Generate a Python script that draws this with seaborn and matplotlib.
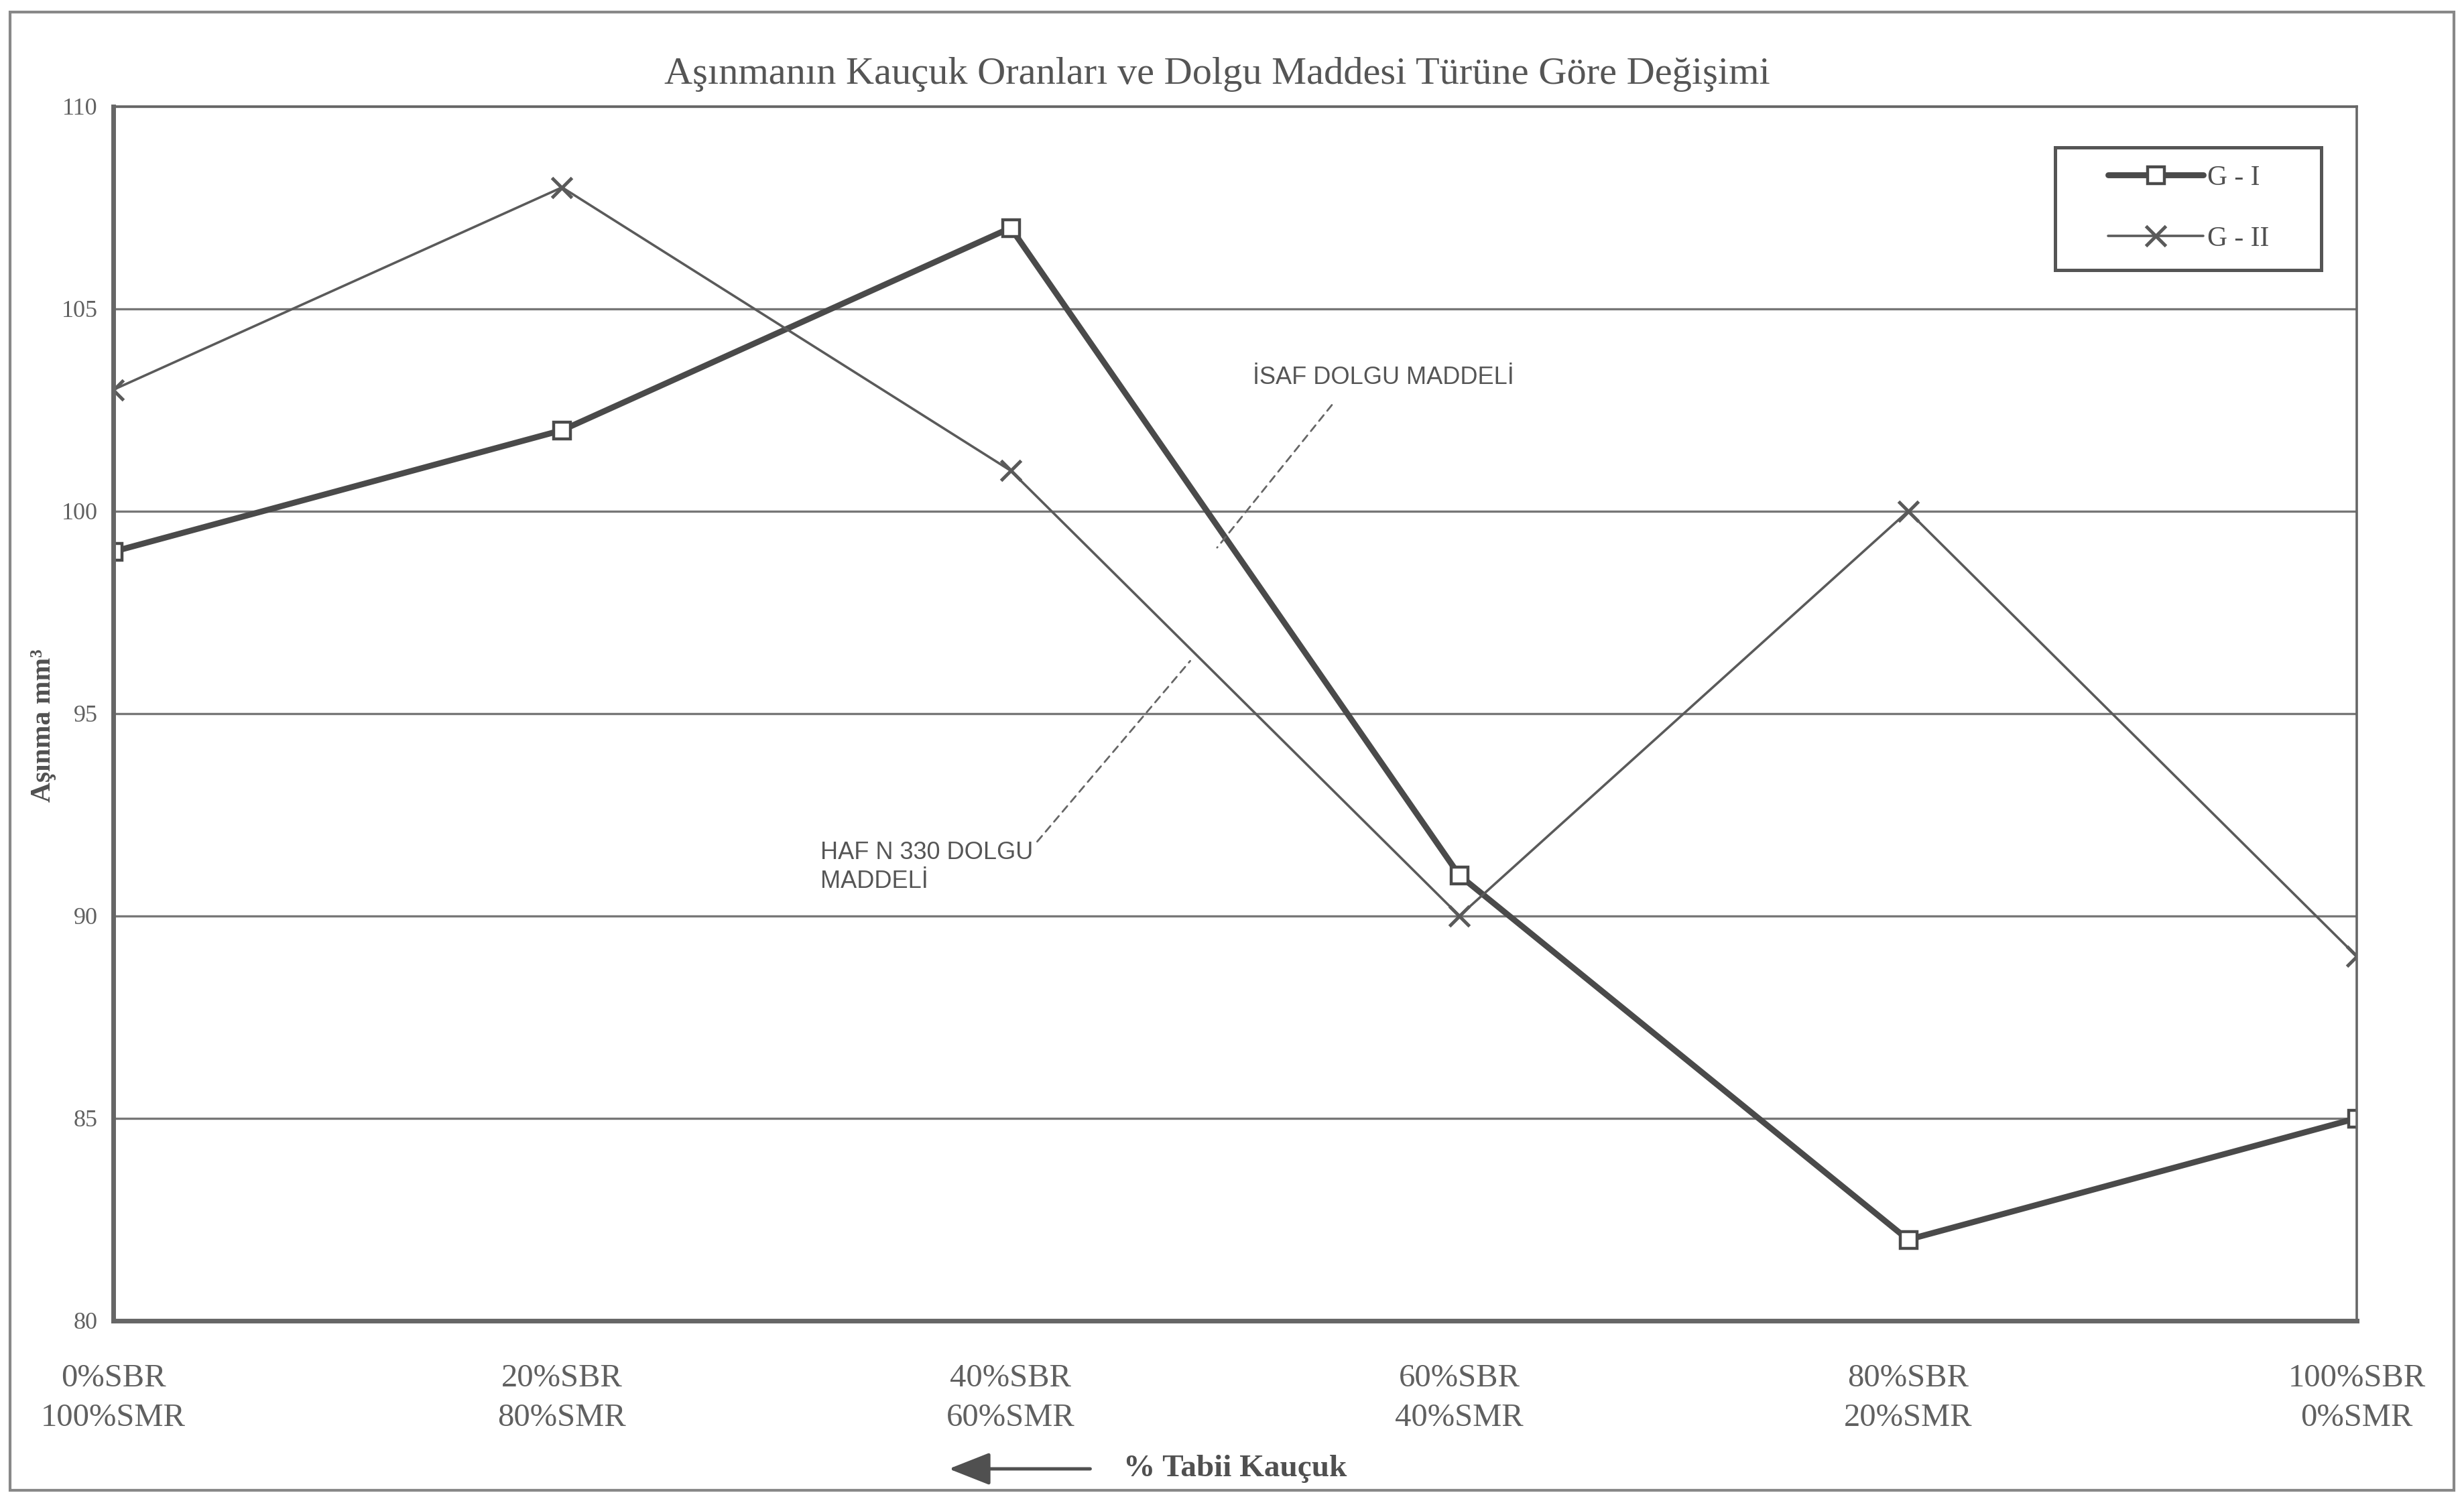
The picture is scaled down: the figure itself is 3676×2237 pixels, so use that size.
import numpy as np
import pandas as pd
import matplotlib.pyplot as plt
import seaborn as sns
from matplotlib.patches import Rectangle, FancyArrowPatch

# data
categories = ["0%SBR\n100%SMR", "20%SBR\n80%SMR", "40%SBR\n60%SMR",
              "60%SBR\n40%SMR", "80%SBR\n20%SMR", "100%SBR\n0%SMR"]
g1_values = [99, 102, 107, 91, 82, 85]
g2_values = [103, 108, 101, 90, 100, 89]
y_ticks = [80, 85, 90, 95, 100, 105, 110]

df = pd.DataFrame({
    "pos": list(range(len(categories))) * 2,
    "val": g1_values + g2_values,
    "seri": ["G - I"] * len(categories) + ["G - II"] * len(categories),
})

sns.set_style("white")
plt.rcParams["font.family"] = ["Liberation Serif", "DejaVu Serif"]

ink = "#555555"
fig = plt.figure(figsize=(18.38, 11.185), dpi=200, facecolor="white")
ax = fig.add_axes([0.046, 0.119, 0.9105, 0.81])

sns.lineplot(data=df[df.seri == "G - I"], x="pos", y="val", ax=ax,
             color="#4a4a4a", linewidth=3.2, marker="s", markersize=9,
             markerfacecolor="white", markeredgecolor="#4a4a4a",
             markeredgewidth=1.6, label="G - I")
sns.lineplot(data=df[df.seri == "G - II"], x="pos", y="val", ax=ax,
             color="#5a5a5a", linewidth=1.3, marker="x", markersize=11,
             markeredgewidth=1.8, markeredgecolor="#5a5a5a", label="G - II")

ax.set_xlim(0, len(categories) - 1)
ax.set_ylim(80, 110)
ax.set_yticks(y_ticks)
ax.set_yticklabels([str(v) for v in y_ticks], fontsize=13, color="#606060")
ax.set_xticks(range(len(categories)))
ax.set_xticklabels(categories, fontsize=17.5, color="#606060", linespacing=1.45)
ax.tick_params(axis="both", direction="inout", length=10, width=1.2, colors=ink,
               labelcolor="#606060")
ax.tick_params(axis="x", pad=18)
ax.grid(axis="y", color="#777777", linewidth=1.2)
for s in ax.spines.values():
    s.set_color("#666666")
    s.set_linewidth(1.3)
ax.spines["left"].set_linewidth(2.5)
ax.spines["bottom"].set_linewidth(2.5)
ax.set_xlabel("")
ax.set_ylabel("Aşınma mm³", fontsize=15, fontweight="bold", color="#505050")
ax.yaxis.set_label_coords(-0.0255, 0.49)

ax.set_title("Aşınmanın Kauçuk Oranları ve Dolgu Maddesi Türüne Göre Değişimi",
             fontsize=21, color="#555555", pad=12, x=0.492)

# legend without its own frame, boxed by a rectangle like the scan
leg = ax.legend(loc="center", bbox_to_anchor=(0.925, 0.916), fontsize=15,
                frameon=False, labelspacing=1.25, handlelength=3.4,
                handletextpad=0.15, borderaxespad=0)
for t in leg.get_texts():
    t.set_color("#505050")
ax.add_patch(Rectangle((0.8655, 0.8655), 0.1185, 0.1005, transform=ax.transAxes,
                       fill=False, edgecolor="#555555", linewidth=1.8,
                       zorder=5))

# annotations with dashed leader lines
ann_font = ["Liberation Sans", "DejaVu Sans"]
ax.annotate("İSAF DOLGU MADDELİ", xy=(2.46, 99.1), xytext=(2.54, 103.3),
            fontsize=13, family=ann_font, color="#555555", va="center",
            arrowprops=dict(arrowstyle="-", linestyle=(0, (4, 3)),
                            color="#666666", lw=1.0,
                            shrinkA=8, shrinkB=0,
                            relpos=(0.35, 0.0)))
ax.annotate("HAF N 330 DOLGU\nMADDELİ", xy=(2.40, 96.3), xytext=(1.576, 91.2),
            fontsize=13, family=ann_font, color="#555555", va="center",
            linespacing=1.3,
            arrowprops=dict(arrowstyle="-", linestyle=(0, (4, 3)),
                            color="#666666", lw=1.0,
                            shrinkA=0, shrinkB=0,
                            relpos=(1.0, 0.9)))

# direction arrow and axis caption below the ticks
fig.patches.append(FancyArrowPatch(
    (1632 / 3676, 1 - 2192 / 2237), (1410 / 3676, 1 - 2192 / 2237),
    transform=fig.transFigure, arrowstyle="-|>,head_length=1.9,head_width=0.75",
    mutation_scale=10, color="#505050", lw=1.8))
fig.text(1676 / 3676, 1 - 2192 / 2237, "% Tabii Kauçuk", fontsize=17,
         fontweight="bold", color="#505050", va="center", ha="left")

# outer frame of the scanned page
fig.patches.append(Rectangle((0.004, 0.006), 0.992, 0.986, transform=fig.transFigure,
                             fill=False, edgecolor="#888888", linewidth=1.5))

fig.savefig("out.png", dpi=200, facecolor="white")
